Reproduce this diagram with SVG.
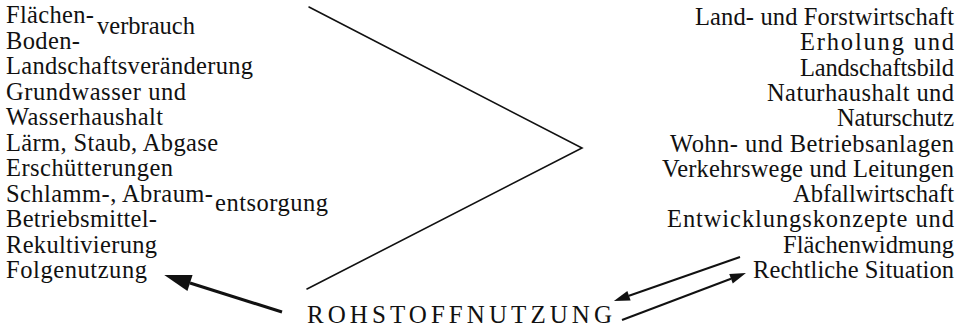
<svg xmlns="http://www.w3.org/2000/svg" width="968" height="332" viewBox="0 0 968 332">
<defs>
<marker id="bigHead" markerUnits="userSpaceOnUse" orient="auto" refX="0" refY="0" markerWidth="30" markerHeight="20" overflow="visible">
<path d="M27,0 L0,-8.5 L0,8.5 z" fill="#111"/>
</marker>
<marker id="smallHead" markerUnits="userSpaceOnUse" orient="auto" refX="0" refY="0" markerWidth="20" markerHeight="12" overflow="visible">
<path d="M16,0 L0,-5 L0,5 z" fill="#111"/>
</marker>
</defs>
<g id="left-list" font-family="Liberation Serif, serif" font-size="24.5" fill="#111">
<text x="6" y="23" textLength="88" lengthAdjust="spacing">Flächen-</text>
<text x="97" y="34" textLength="98" lengthAdjust="spacing">verbrauch</text>
<text x="6" y="48.5" textLength="74" lengthAdjust="spacing">Boden-</text>
<text x="6" y="74" textLength="247" lengthAdjust="spacing">Landschaftsveränderung</text>
<text x="6" y="99.5" textLength="180" lengthAdjust="spacing">Grundwasser und</text>
<text x="6" y="125" textLength="157" lengthAdjust="spacing">Wasserhaushalt</text>
<text x="6" y="150.5" textLength="212" lengthAdjust="spacing">Lärm, Staub, Abgase</text>
<text x="6" y="176" textLength="167" lengthAdjust="spacing">Erschütterungen</text>
<text x="6" y="201.5" textLength="207" lengthAdjust="spacing">Schlamm-, Abraum-</text>
<text x="215" y="211" textLength="113" lengthAdjust="spacing">entsorgung</text>
<text x="6" y="227" textLength="151" lengthAdjust="spacing">Betriebsmittel-</text>
<text x="6" y="252.5" textLength="151" lengthAdjust="spacing">Rekultivierung</text>
<text x="6" y="278" textLength="141" lengthAdjust="spacing">Folgenutzung</text>
</g>
<g id="right-list" font-family="Liberation Serif, serif" font-size="24.5" fill="#111" text-anchor="end">
<text x="954" y="25" textLength="259" lengthAdjust="spacing">Land- und Forstwirtschaft</text>
<text x="954" y="50.3" textLength="154" lengthAdjust="spacing">Erholung und</text>
<text x="954" y="75.6" textLength="154" lengthAdjust="spacing">Landschaftsbild</text>
<text x="954" y="100.9" textLength="187" lengthAdjust="spacing">Naturhaushalt und</text>
<text x="954" y="126.2" textLength="117" lengthAdjust="spacing">Naturschutz</text>
<text x="954" y="151.5" textLength="284" lengthAdjust="spacing">Wohn- und Betriebsanlagen</text>
<text x="954" y="176.8" textLength="292" lengthAdjust="spacing">Verkehrswege und Leitungen</text>
<text x="954" y="202.1" textLength="161" lengthAdjust="spacing">Abfallwirtschaft</text>
<text x="954" y="227.4" textLength="287" lengthAdjust="spacing">Entwicklungskonzepte und</text>
<text x="954" y="252.7" textLength="171" lengthAdjust="spacing">Flächenwidmung</text>
<text x="954" y="278" textLength="201" lengthAdjust="spacing">Rechtliche Situation</text>
</g>
<g id="rohstoffnutzung" font-family="Liberation Serif, serif" font-size="25" fill="#111">
<text x="307" y="323" textLength="305" lengthAdjust="spacing">ROHSTOFFNUTZUNG</text>
</g>
<g id="connectors" fill="none" stroke="#111">
<polyline stroke-width="1.6" stroke-linecap="round" points="309,7 582,148 307,289"/>
<line stroke-width="3" x1="282" y1="312" x2="190" y2="283" marker-end="url(#bigHead)"/>
<line stroke-width="2" x1="740" y1="257" x2="629" y2="295.7" marker-end="url(#smallHead)"/>
<line stroke-width="2" x1="622" y1="320" x2="731" y2="278.7" marker-end="url(#smallHead)"/>
</g>
</svg>
